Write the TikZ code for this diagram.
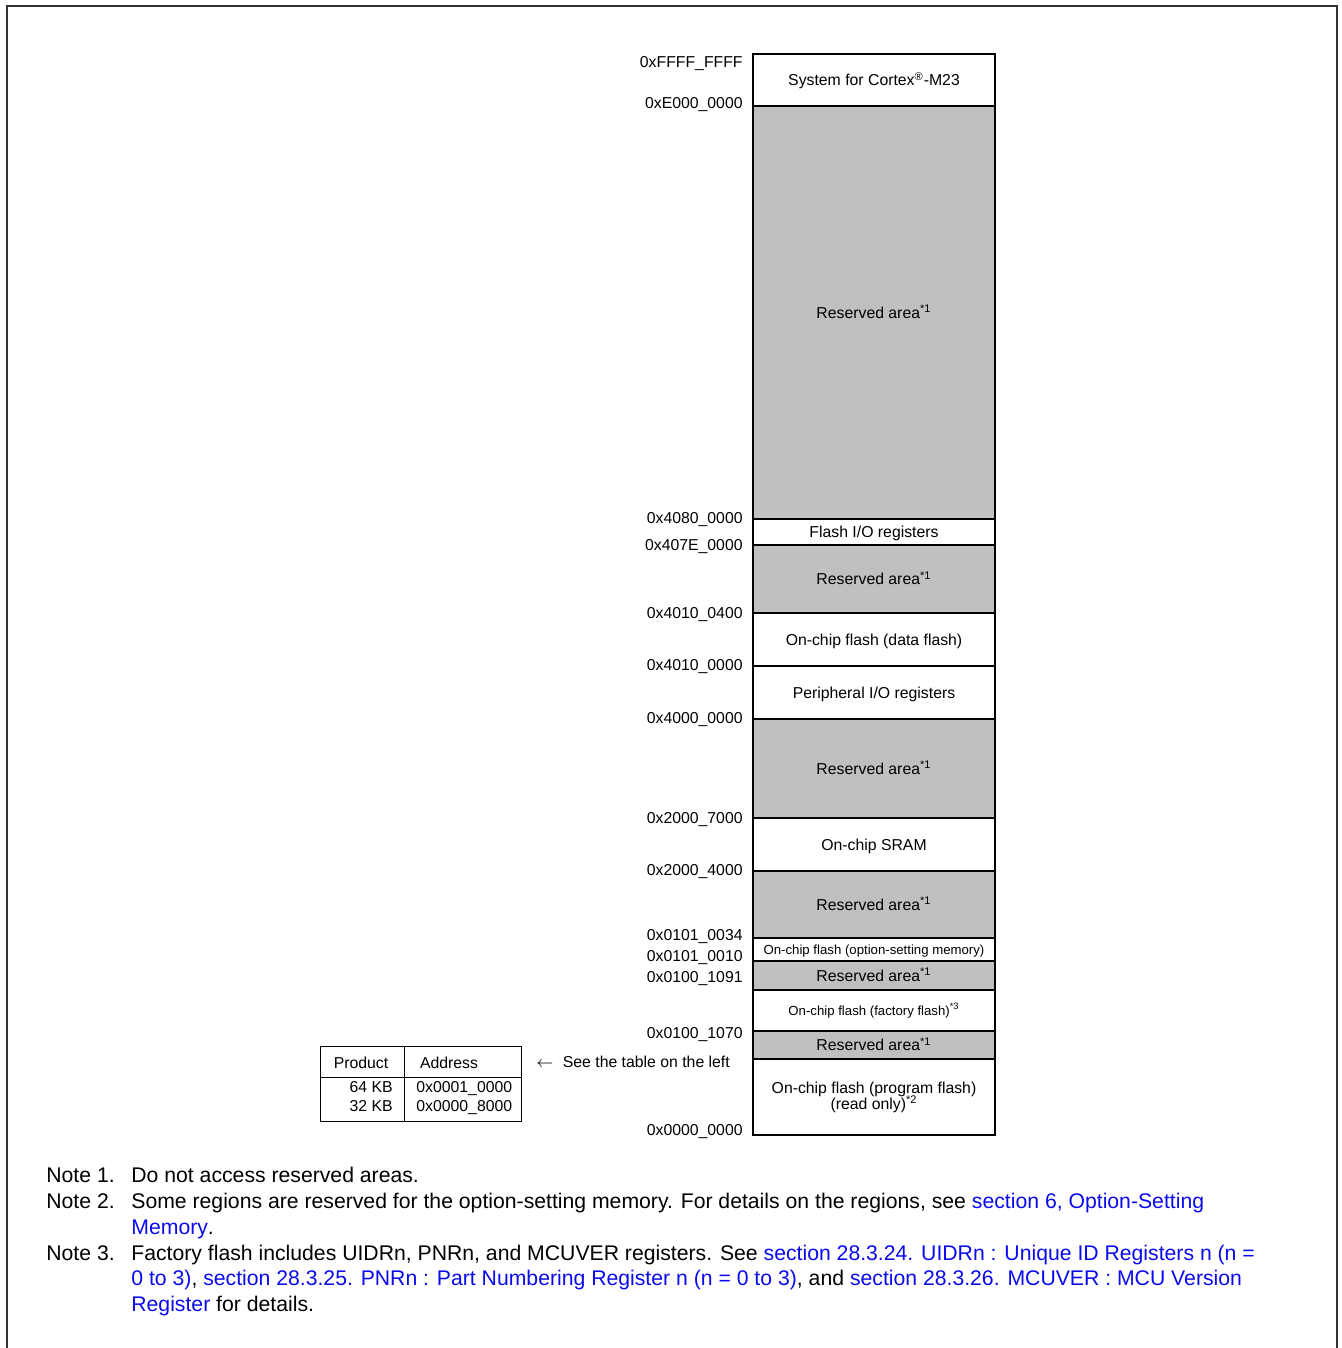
\documentclass[tikz,border=0pt]{standalone}
\usepackage{fontspec}
\setmainfont{Liberation Sans}
\definecolor{resgray}{RGB}{192,192,192}
\definecolor{linkblue}{RGB}{10,10,240}
\begin{document}
\begin{tikzpicture}[x=0.5pt,y=-0.5pt,
  region/.style={draw=black, line width=0.75pt, minimum width=121pt, inner sep=0pt,
    font=\fontsize{7.9}{8}\selectfont, align=center},
  res/.style={region, fill=resgray},
  one/.style={text height=5.7pt, text depth=0pt},
  small/.style={font=\fontsize{6.6}{8}\selectfont, text height=4.8pt, text depth=0pt},
  addr/.style={anchor=east, inner sep=0pt, font=\fontsize{7.9}{9}\selectfont, one},
  tab/.style={inner sep=0pt, font=\fontsize{7.9}{9}\selectfont, one},
  note/.style={anchor=base west, inner sep=0pt, font=\fontsize{10.6}{13}\selectfont},
  lk/.style={text=linkblue}]
\useasboundingbox (0,0) rectangle (1341,1348);
% outer frame
\draw[black!80, line width=0.75pt] (7,1348) -- (7,6) -- (1337,6) -- (1337,1348);
% memory regions
\node[region, one, minimum height=26pt] (sys) at (874,80) {System for Cortex\textsuperscript{®}-M23};
\node[res, one, minimum height=206.5pt] (r1) at (874,312.5) {Reserved area\textsuperscript{*1}};
\node[region, one, minimum height=13pt] (fio) at (874,532) {Flash I/O registers};
\node[res, one, minimum height=34pt] (r2) at (874,579) {Reserved area\textsuperscript{*1}};
\node[region, one, minimum height=26.5pt] (df) at (874,639.5) {On-chip flash (data flash)};
\node[region, one, minimum height=26.5pt] (pio) at (874,692.5) {Peripheral I/O registers};
\node[res, one, minimum height=49.5pt] (r3) at (874,768.5) {Reserved area\textsuperscript{*1}};
\node[region, one, minimum height=26.5pt] (sram) at (874,844.5) {On-chip SRAM};
\node[res, one, minimum height=33.5pt] (r4) at (874,904.5) {Reserved area\textsuperscript{*1}};
\node[region, small, minimum height=11.5pt] (osm) at (874,949.5) {On-chip flash (option-setting memory)};
\node[res, one, minimum height=14.5pt] (r5) at (874,975.5) {Reserved area\textsuperscript{*1}};
\node[region, small, minimum height=20.5pt] (ff) at (874,1010.5) {On-chip flash (factory flash)\textsuperscript{*3}};
\node[res, one, minimum height=14pt] (r6) at (874,1045) {Reserved area\textsuperscript{*1}};
\node[region, minimum height=38pt] (pf) at (874,1097) {On-chip flash (program flash)\\(read only)\smash{\textsuperscript{*2}}};
% address labels
\node[addr] (a1) at (743,62) {0xFFFF\_FFFF};
\node[addr] (a2) at (743,103) {0xE000\_0000};
\node[addr] (a3) at (743,518) {0x4080\_0000};
\node[addr] (a4) at (743,545) {0x407E\_0000};
\node[addr] (a5) at (743,613) {0x4010\_0400};
\node[addr] (a6) at (743,665) {0x4010\_0000};
\node[addr] (a7) at (743,718) {0x4000\_0000};
\node[addr] (a8) at (743,818) {0x2000\_7000};
\node[addr] (a9) at (743,870) {0x2000\_4000};
\node[addr] (a10) at (743,935) {0x0101\_0034};
\node[addr] (a11) at (743,956) {0x0101\_0010};
\node[addr] (a12) at (743,977) {0x0100\_1091};
\node[addr] (a13) at (743,1033) {0x0100\_1070};
\node[addr] (a14) at (743,1130) {0x0000\_0000};
% table
\draw[line width=0.5pt] (320,1046) rectangle (521,1121);
\draw[line width=0.5pt] (404,1046) -- (404,1121);
\draw[line width=0.5pt] (320,1077) -- (521,1077);
\node[tab] (th1) at (361,1063) {Product};
\node[tab] (th2) at (449,1063) {Address};
\node[tab, anchor=east] (t11) at (393,1087) {64 KB};
\node[tab, anchor=east] (t21) at (393,1106) {32 KB};
\node[tab, anchor=west] (t12) at (416,1087) {0x0001\_0000};
\node[tab, anchor=west] (t22) at (416,1106) {0x0000\_8000};
\node[tab, anchor=west] (see) at (536,1062) {$\leftarrow$\hspace{0.6em}See the table on the left};
% notes
\node[note] (n1) at (46,1182) {Note 1.};
\node[note] (n1t) at (131,1182) {Do not access reserved areas.};
\node[note] (n2) at (46,1208) {Note 2.};
\node[note] (n2t) at (131,1208) {Some regions are reserved for the option-setting memory. For details on the regions, see \textcolor{linkblue}{section 6, Option-Setting}};
\node[note] (n2u) at (131,1234) {\textcolor{linkblue}{Memory}.};
\node[note] (n3) at (46,1260) {Note 3.};
\node[note] (n3t) at (131,1260) {Factory flash includes UIDRn, PNRn, and MCUVER registers. See \textcolor{linkblue}{section 28.3.24. UIDRn : Unique ID Registers n (n =}};
\node[note] (n3u) at (131,1285) {\textcolor{linkblue}{0 to 3)}, \textcolor{linkblue}{section 28.3.25. PNRn : Part Numbering Register n (n = 0 to 3)}, and \textcolor{linkblue}{section 28.3.26. MCUVER : MCU Version}};
\node[note] (n3v) at (131,1311) {\textcolor{linkblue}{Register} for details.};
\end{tikzpicture}
\end{document}
